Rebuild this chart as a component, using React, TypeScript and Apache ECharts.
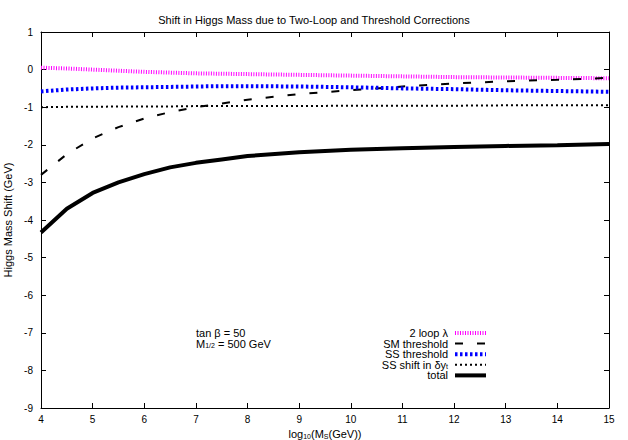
import React, { useEffect, useRef } from "react";
import * as echarts from "echarts";

const xs = [4, 4.5, 5, 5.5, 6, 6.5, 7, 7.5, 8, 9, 10, 11, 12, 13, 14, 15];
const twoLoop = [0.05, 0.03, 0.0, -0.03, -0.06, -0.08, -0.1, -0.11, -0.12, -0.14, -0.16, -0.18, -0.2, -0.21, -0.22, -0.23];
const smThreshold = [-2.8, -2.25, -1.83, -1.53, -1.3, -1.13, -1.0, -0.9, -0.8, -0.65, -0.55, -0.45, -0.37, -0.31, -0.27, -0.22];
const ssThreshold = [-0.58, -0.53, -0.5, -0.48, -0.47, -0.46, -0.45, -0.44, -0.44, -0.45, -0.47, -0.5, -0.52, -0.55, -0.57, -0.59];
const ssShift = [-1.0, -0.99, -0.99, -0.98, -0.98, -0.98, -0.97, -0.97, -0.97, -0.97, -0.96, -0.96, -0.96, -0.95, -0.95, -0.95];
const total = [-4.33, -3.7, -3.28, -3.0, -2.78, -2.6, -2.48, -2.39, -2.3, -2.2, -2.13, -2.09, -2.06, -2.03, -2.01, -1.98];

const FONT = "Liberation Sans, Arial, sans-serif";

const pair = (ys: number[]) => xs.map((x, i) => [x, ys[i]]);

export default function App() {
  const ref = useRef<HTMLDivElement>(null);
  useEffect(() => {
    const chart = echarts.init(ref.current!, null, { renderer: "svg" });
    const axisCommon = {
      type: "value" as const,
      axisLine: { show: true, onZero: false, lineStyle: { color: "#000", width: 1 } },
      axisTick: { show: true, inside: true, length: 5, lineStyle: { color: "#000" } },
      splitLine: { show: false },
    };
    const subStyle = { fontSize: 7, fontFamily: FONT, lineHeight: 9, padding: [4, 0, 0, 0] };
    const legendItems = [
      { name: "2 loop λ", color: "#ff00ff", width: 4, dash: [1, 1.5] },
      { name: "SM threshold", color: "#000", width: 2, dash: [8, 14] },
      { name: "SS threshold", color: "#0000ff", width: 4, dash: [2.5, 2.5] },
      { name: "SS shift in δy{sub|t}", color: "#000", width: 2, dash: [2, 3] },
      { name: "total", color: "#000", width: 4, dash: null as any },
    ];
    const legendTop = 333;
    const legendStep = 10.6;
    const graphics: any[] = [];
    legendItems.forEach((it, i) => {
      const y = legendTop + i * legendStep;
      graphics.push({
        type: "text",
        x: 448,
        y,
        style: {
          text: it.name,
          font: `11px ${FONT}`,
          fill: "#000",
          align: "right",
          verticalAlign: "middle",
          lineHeight: 10,
          rich: { sub: subStyle },
        },
      });
      graphics.push({
        type: "line",
        shape: { x1: 455, y1: y, x2: 486, y2: y },
        style: { stroke: it.color, lineWidth: it.width, lineDash: it.dash || undefined },
      });
    });
    graphics.push({
      type: "text",
      x: 196,
      y: 327,
      style: {
        text: "tan β = 50\nM{sub|1/2} = 500 GeV",
        font: `11px ${FONT}`,
        fill: "#000",
        lineHeight: 11,
        rich: { sub: subStyle },
      },
    });

    chart.setOption({
      animation: false,
      title: {
        text: "Shift in Higgs Mass due to Two-Loop and Threshold Corrections",
        left: "center",
        top: 9,
        textStyle: { fontFamily: FONT, fontSize: 11, fontWeight: "normal", color: "#000" },
      },
      grid: { left: 41, right: 19, top: 32, bottom: 32, containLabel: false, outerBoundsMode: "none" },
      xAxis: [
        {
          ...axisCommon,
          min: 4,
          max: 15,
          interval: 1,
          position: "bottom",
          axisLabel: { fontFamily: FONT, fontSize: 10, color: "#000", margin: 6 },
          name: "log{sub|10}(M{sub|S}(GeV))",
          nameLocation: "middle",
          nameGap: 19,
          nameTextStyle: {
            fontFamily: FONT,
            fontSize: 11,
            color: "#000",
            rich: { sub: subStyle },
          },
        },
        {
          ...axisCommon,
          min: 4,
          max: 15,
          interval: 1,
          position: "top",
          axisLabel: { show: false },
        },
      ],
      yAxis: [
        {
          ...axisCommon,
          min: -9,
          max: 1,
          interval: 1,
          position: "left",
          axisLabel: { fontFamily: FONT, fontSize: 10, color: "#000", margin: 8 },
          name: "Higgs Mass Shift (GeV)",
          nameLocation: "middle",
          nameGap: 24,
          nameTextStyle: { fontFamily: FONT, fontSize: 11, color: "#000" },
        },
        {
          ...axisCommon,
          min: -9,
          max: 1,
          interval: 1,
          position: "right",
          axisLabel: { show: false },
        },
      ],
      series: [
        {
          name: "2 loop λ",
          type: "line",
          data: pair(twoLoop),
          symbol: "none",
          lineStyle: { color: "#ff00ff", width: 4, type: [1, 1.5] },
        },
        {
          name: "SM threshold",
          type: "line",
          data: pair(smThreshold),
          symbol: "none",
          lineStyle: { color: "#000", width: 2, type: [8, 14] },
        },
        {
          name: "SS threshold",
          type: "line",
          data: pair(ssThreshold),
          symbol: "none",
          lineStyle: { color: "#0000ff", width: 4, type: [2.5, 2.5] },
        },
        {
          name: "SS shift in δyt",
          type: "line",
          data: pair(ssShift),
          symbol: "none",
          lineStyle: { color: "#000", width: 2, type: [2, 3] },
        },
        {
          name: "total",
          type: "line",
          data: pair(total),
          symbol: "none",
          lineStyle: { color: "#000", width: 4 },
        },
      ],
      graphic: graphics,
    });
    return () => chart.dispose();
  }, []);
  return <div ref={ref} style={{ width: 628, height: 440, position: "absolute", left: 0, top: 0 }} />;
}
